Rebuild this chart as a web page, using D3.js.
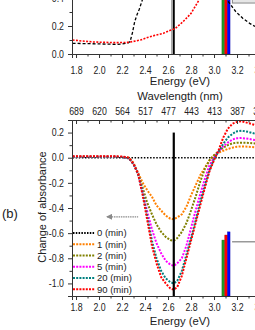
<!DOCTYPE html>
<html>
<head>
<meta charset="utf-8">
<script src="https://cdn.jsdelivr.net/npm/d3@7"></script>
<style>
    body { margin: 0; background: #fff; }
    svg { display: block; font-family: "Liberation Sans", Arial, sans-serif; }
    .axis path, .axis line { stroke: #333; stroke-width: 1; }
    .axis text { fill: #222; font-size: 10px; }
    .title { fill: #222; font-size: 11.3px; }
</style>
</head>
<body>
<svg id="chart" width="255" height="330"></svg>
<script>
// *********************** DATA
// Panel (a): absorbance spectra, only the lower part of the panel is in view
const specBlackE = [1.77, 1.9, 2.0, 2.1, 2.15, 2.2, 2.25, 2.27, 2.29, 2.31, 2.33, 2.35, 2.37, 2.39, 2.42,
                    3.05, 3.12, 3.19, 3.25, 3.31, 3.35, 3.45, 3.6];
const specBlackA = [0.076, 0.074, 0.072, 0.07, 0.069, 0.071, 0.078, 0.088, 0.15, 0.23, 0.28, 0.32, 0.37, 0.42, 0.5,
                    0.5, 0.379, 0.302, 0.255, 0.219, 0.2, 0.17, 0.14];
const specRedE = [1.77, 1.85, 1.95, 2.05, 2.15, 2.25, 2.3, 2.36, 2.43, 2.5, 2.56, 2.62, 2.66, 2.73, 2.8, 2.87, 2.93];
const specRedA = [0.1, 0.093, 0.086, 0.083, 0.081, 0.083, 0.09, 0.1, 0.12, 0.136, 0.148, 0.17, 0.18, 0.23, 0.29, 0.386, 0.47];

// Panel (b): change of absorbance after irradiation time
const energies = [1.77, 1.9, 2.0, 2.1, 2.2, 2.26, 2.30, 2.34, 2.38, 2.42, 2.46, 2.50, 2.54, 2.58, 2.62, 2.65, 2.68,
                  2.72, 2.76, 2.80, 2.84, 2.88, 2.92, 2.96, 3.00, 3.04, 3.08, 3.12, 3.16, 3.20, 3.24, 3.30, 3.36, 3.45];
const dA0  = [0, 0, 0, 0, 0, 0, 0, 0, 0, 0, 0, 0, 0, 0, 0, 0, 0,
              0, 0, 0, 0, 0, 0, 0, 0, 0, 0, 0, 0, 0, 0, 0, 0, 0];
const dA1  = [0.008, 0.008, 0.008, 0.008, 0.006, 0.0, -0.04, -0.12, -0.2, -0.26, -0.31, -0.38, -0.42, -0.46, -0.485, -0.49, -0.475,
              -0.45, -0.39, -0.3, -0.22, -0.14, -0.08, -0.02, 0.02, 0.04, 0.055, 0.07, 0.08, 0.088, 0.09, 0.087, 0.083, 0.075];
const dA2  = [0.008, 0.008, 0.008, 0.008, 0.006, -0.005, -0.05, -0.13, -0.24, -0.36, -0.45, -0.53, -0.59, -0.63, -0.655, -0.66, -0.64,
              -0.59, -0.52, -0.42, -0.31, -0.19, -0.09, -0.02, 0.02, 0.05, 0.08, 0.1, 0.115, 0.12, 0.12, 0.118, 0.113, 0.1];
const dA5  = [0.008, 0.008, 0.008, 0.008, 0.006, -0.005, -0.05, -0.13, -0.28, -0.43, -0.57, -0.68, -0.76, -0.82, -0.85, -0.86, -0.84,
              -0.8, -0.7, -0.56, -0.42, -0.29, -0.17, -0.06, 0.0, 0.05, 0.09, 0.12, 0.145, 0.155, 0.157, 0.15, 0.14, 0.125];
const dA20 = [0.008, 0.008, 0.008, 0.008, 0.006, -0.005, -0.05, -0.13, -0.28, -0.47, -0.66, -0.8, -0.9, -0.96, -0.99, -1.0, -0.98,
              -0.9, -0.77, -0.64, -0.5, -0.35, -0.22, -0.1, -0.01, 0.05, 0.11, 0.16, 0.19, 0.21, 0.215, 0.205, 0.19, 0.17];
const dA90 = [0.012, 0.012, 0.012, 0.012, 0.01, 0.0, -0.05, -0.13, -0.3, -0.5, -0.7, -0.84, -0.95, -1.0, -1.04, -1.05, -1.03,
              -0.94, -0.8, -0.66, -0.52, -0.38, -0.24, -0.11, -0.02, 0.06, 0.16, 0.23, 0.27, 0.285, 0.29, 0.275, 0.26, 0.24];
const seriesNames = ["0 (min)", "1 (min)", "2 (min)", "5 (min)", "20 (min)", "90 (min)"];
const seriesValues = [dA0, dA1, dA2, dA5, dA20, dA90];
const seriesColors = ["#000000", "#ff8000", "#808000", "#ff00ff", "#008080", "#ff0000"];

// Marker lines
const peakE = 2.65;
const barE = [3.08, 3.105, 3.128];
const barTopB = [-0.655, -0.615, -0.59];
const barColors = ["#239a23", "#ff0000", "#0000ff"];
const barStroke = ["#176617", "#aa0000", "#0000aa"];

// Tick labels
const energyTicks = [1.8, 2.0, 2.2, 2.4, 2.6, 2.8, 3.0, 3.2, 3.4, 3.6];
const energyMinor = [1.9, 2.1, 2.3, 2.5, 2.7, 2.9, 3.1, 3.3, 3.5];
const wavelengthLabels = ["689", "620", "564", "517", "477", "443", "413", "387", "365", "344"];
const absTicks = [0.0, 0.2, 0.4];
const absMinor = [0.1, 0.3];
const dAbsTicks = [-1.0, -0.8, -0.6, -0.4, -0.2, 0.0, 0.2];
const dAbsMinor = [-1.1, -0.9, -0.7, -0.5, -0.3, -0.1, 0.1];

const svg = d3.select('#chart');
const fmt = d => d3.format(".1f")(d).replace("\u2212", "-");

// narrow the tick label glyphs a little, like the original export
function squeeze(sel, k) {
    sel.selectAll('text').each(function() {
        let t = d3.select(this);
        let x = +t.attr('x') || 0;
        t.attr('x', x / k).attr('transform', `scale(${k},1)`);
    });
}

// *********************** SCALES
let x = d3.scaleLinear().domain([1.765, 3.64]).range([72, 72 + 1.875 * 115]);
let yA = d3.scaleLinear().domain([0, 0.45]).range([54, -9]);
let yB = d3.scaleLinear().domain([-1.1, 0.3]).range([296, 120]);

svg.append('clipPath').attr('id', 'clipA')
    .append('rect').attr('x', 72).attr('y', -9).attr('width', 230).attr('height', 63);
svg.append('clipPath').attr('id', 'clipB')
    .append('rect').attr('x', 72).attr('y', 120).attr('width', 230).attr('height', 176);

// *********************** PANEL (a)
let gA = svg.append('g').attr('clip-path', 'url(#clipA)');

// legend box of the top panel, just its lower edge is visible
gA.append('rect')
    .attr('x', x(3.16)).attr('y', -12).attr('width', 40).attr('height', yA(0.364) + 12)
    .attr('fill', '#e6e6e6').attr('stroke', '#8a8a8a').attr('stroke-width', 1);

gA.append('line')
    .attr('x1', x(peakE) - 2).attr('x2', x(peakE) - 2).attr('y1', yA(0.45)).attr('y2', yA(0))
    .attr('stroke', '#999').attr('stroke-width', 1.2);
gA.append('line')
    .attr('x1', x(peakE)).attr('x2', x(peakE)).attr('y1', yA(0.45)).attr('y2', yA(0))
    .attr('stroke', '#000').attr('stroke-width', 2);

gA.selectAll('rect.bar')
    .data(barE)
    .join('rect')
        .attr('class', 'bar')
        .attr('x', d => x(d) - 1.3)
        .attr('y', yA(0.45))
        .attr('width', 2.6)
        .attr('height', yA(0) - yA(0.45))
        .attr('fill', (d, i) => barColors[i])
        .attr('stroke', (d, i) => barStroke[i])
        .attr('stroke-width', 0.4);

let lineA = d3.line().x(d => x(d[0])).y(d => yA(d[1]));
gA.append('path')
    .attr('d', lineA(d3.zip(specBlackE, specBlackA)))
    .attr('fill', 'none').attr('stroke', '#000').attr('stroke-width', 1.3)
    .attr('stroke-dasharray', '3,2');
gA.append('path')
    .attr('d', lineA(d3.zip(specRedE, specRedA)))
    .attr('fill', 'none').attr('stroke', '#ff0000').attr('stroke-width', 1.6)
    .attr('stroke-dasharray', '2,1.4');

// axes of panel (a)
let axA = svg.append('g').attr('class', 'axis').attr('transform', `translate(0,${yA(0)})`)
    .call(d3.axisBottom(x).tickValues(energyTicks).tickSize(4).tickPadding(8.5).tickFormat(fmt));
squeeze(axA, 0.88);
svg.append('g').attr('class', 'axis').attr('transform', `translate(0,${yA(0)})`)
    .call(d3.axisBottom(x).tickValues(energyMinor).tickSize(2.5).tickFormat(''))
    .select('.domain').remove();
let ayA = svg.append('g').attr('class', 'axis').attr('transform', 'translate(72,0)')
    .call(d3.axisLeft(yA).tickValues(absTicks).tickSize(4).tickPadding(4).tickFormat(fmt));
squeeze(ayA, 0.88);
ayA.select('.domain').attr('stroke', '#888').attr('stroke-width', 2);
svg.append('g').attr('class', 'axis').attr('transform', 'translate(72,0)')
    .call(d3.axisLeft(yA).tickValues(absMinor).tickSize(2.5).tickFormat(''))
    .select('.domain').remove();

svg.append('text').attr('class', 'title')
    .attr('x', 180).attr('y', 85).attr('text-anchor', 'middle')
    .text('Energy (eV)');
svg.append('text').attr('class', 'title')
    .attr('x', 180).attr('y', 100).attr('text-anchor', 'middle')
    .text('Wavelength (nm)');

// *********************** PANEL (b)
let gB = svg.append('g').attr('clip-path', 'url(#clipB)');
let lineB = d3.line().x(d => x(d[0])).y(d => yB(d[1]));

seriesValues.forEach((vals, i) => {
    gB.append('path')
        .attr('d', lineB(d3.zip(energies, vals)))
        .attr('fill', 'none')
        .attr('stroke', seriesColors[i])
        .attr('stroke-width', i === 0 ? 1.6 : 2)
        .attr('stroke-dasharray', i === 0 ? '1.5,1.6' : '2,1.4');
});

gB.append('line')
    .attr('x1', x(peakE)).attr('x2', x(peakE)).attr('y1', yB(0.2)).attr('y2', yB(-1.1))
    .attr('stroke', '#000').attr('stroke-width', 2.2);

gB.selectAll('rect.bar')
    .data(barE)
    .join('rect')
        .attr('class', 'bar')
        .attr('x', d => x(d) - 1.3)
        .attr('y', (d, i) => yB(barTopB[i]))
        .attr('width', 2.6)
        .attr('height', (d, i) => yB(-1.1) - yB(barTopB[i]))
        .attr('fill', (d, i) => barColors[i])
        .attr('stroke', (d, i) => barStroke[i])
        .attr('stroke-width', 0.4);

gB.append('line')
    .attr('x1', x(3.157)).attr('x2', x(3.6)).attr('y1', yB(-0.668)).attr('y2', yB(-0.668))
    .attr('stroke', '#999').attr('stroke-width', 1.5);

// dashed gray arrow pointing to lower energy
svg.append('defs').append('marker')
    .attr('id', 'head').attr('viewBox', '0 0 6 6').attr('refX', 1).attr('refY', 3)
    .attr('markerWidth', 5).attr('markerHeight', 5).attr('orient', 'auto')
    .append('path').attr('d', 'M0,3L6,0L6,6Z').attr('fill', '#8a8a8a');
gB.append('line')
    .attr('x1', x(2.07)).attr('x2', x(2.34)).attr('y1', yB(-0.47)).attr('y2', yB(-0.47))
    .attr('stroke', '#8a8a8a').attr('stroke-width', 1.2).attr('stroke-dasharray', '1.5,0.8')
    .attr('marker-start', 'url(#head)');

// legend
let legend = svg.append('g').attr('transform', 'translate(73,233)');
seriesNames.forEach((name, i) => {
    let row = legend.append('g').attr('transform', `translate(0,${i * 11.25})`);
    row.append('line')
        .attr('x1', 0).attr('x2', 22).attr('y1', 0).attr('y2', 0)
        .attr('stroke', seriesColors[i]).attr('stroke-width', 2)
        .attr('stroke-dasharray', i === 0 ? '1.5,1.3' : '2,1.2');
    row.append('text')
        .attr('x', 24).attr('y', 3.4)
        .attr('fill', '#222').style('font-size', '9.5px')
        .text(name);
});

// axes of panel (b)
let axB = svg.append('g').attr('class', 'axis').attr('transform', `translate(0,${yB(-1.1)})`)
    .call(d3.axisBottom(x).tickValues(energyTicks).tickSize(4).tickPadding(3.8).tickFormat(fmt));
squeeze(axB, 0.88);
svg.append('g').attr('class', 'axis').attr('transform', `translate(0,${yB(-1.1)})`)
    .call(d3.axisBottom(x).tickValues(energyMinor).tickSize(2.5).tickFormat(''))
    .select('.domain').remove();

let axTop = svg.append('g').attr('class', 'axis').attr('transform', `translate(0,${yB(0.3)})`)
    .call(d3.axisTop(x).tickValues(energyTicks).tickSize(-4).tickPadding(5.5)
        .tickFormat((d, i) => wavelengthLabels[i]));
squeeze(axTop, 0.88);
svg.append('g').attr('class', 'axis').attr('transform', `translate(0,${yB(0.3)})`)
    .call(d3.axisTop(x).tickValues(energyMinor).tickSize(-2.5).tickFormat(''))
    .select('.domain').remove();

let ayB = svg.append('g').attr('class', 'axis').attr('transform', 'translate(72,0)')
    .call(d3.axisLeft(yB).tickValues(dAbsTicks).tickSize(4).tickPadding(4).tickFormat(fmt));
squeeze(ayB, 0.88);
svg.append('g').attr('class', 'axis').attr('transform', 'translate(72,0)')
    .call(d3.axisLeft(yB).tickValues(dAbsMinor).tickSize(2.5).tickFormat(''))
    .select('.domain').remove();

svg.append('text').attr('class', 'title')
    .attr('x', 180).attr('y', 325).attr('text-anchor', 'middle')
    .text('Energy (eV)');
svg.append('text').attr('class', 'title')
    .attr('transform', 'rotate(-90)')
    .attr('x', -207).attr('y', 46).attr('text-anchor', 'middle')
    .style('font-size', '11px')
    .text('Change of absorbance');
svg.append('text')
    .attr('x', 2).attr('y', 217.5).attr('fill', '#222').style('font-size', '13px')
    .text('(b)');
</script>
</body>
</html>
